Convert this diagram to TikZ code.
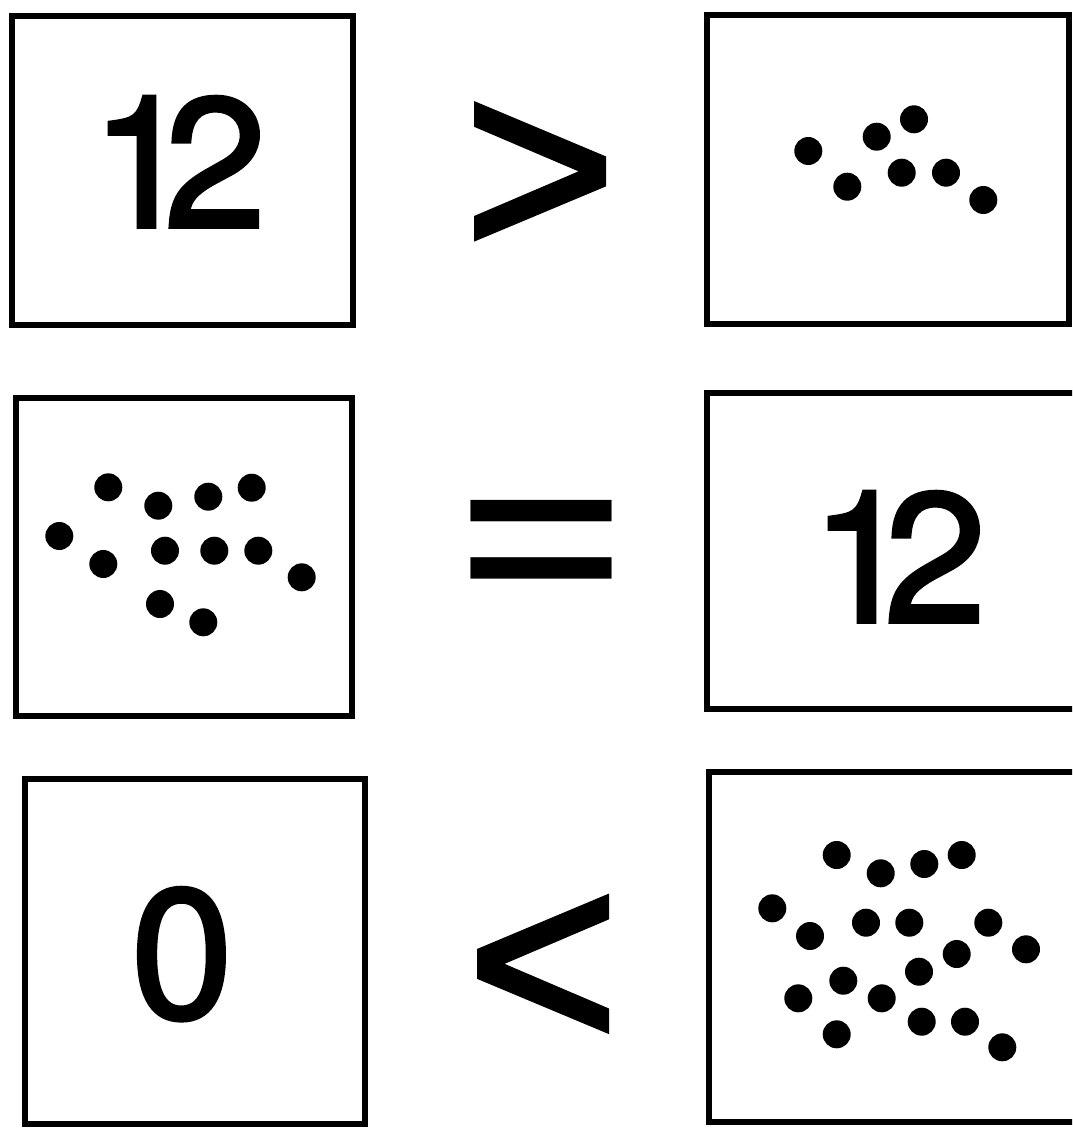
\documentclass[tikz,border=0pt]{standalone}
\usepackage{fontspec}
\setmainfont{TeX Gyre Heros}
\newfontfamily\digitfont[FakeBold=2]{TeX Gyre Heros}
\newfontfamily\relfont[FakeBold=2.2]{Liberation Sans}
\newfontfamily\eqfont{TeX Gyre Heros}
\begin{document}
\begin{tikzpicture}[x=1pt,y=-1pt,
  panel/.style={draw=black,line width=6.5pt,rectangle,inner sep=0pt,fill=none},
  digits/.style={inner sep=0pt,outer sep=0pt,font=\digitfont\fontsize{184}{184}\selectfont},
  relsym/.style={inner sep=0pt,outer sep=0pt,font=\relfont\fontsize{260}{260}\selectfont},
  eqsym/.style={inner sep=0pt,outer sep=0pt,font=\eqfont\fontsize{315}{315}\selectfont},
  dot/.style={fill=black}]
\useasboundingbox (0,0) rectangle (1072,1129);
\clip (0,0) rectangle (1072,1129);
\fill[white] (0,0) rectangle (1072,1129);
% panels
\node[panel,minimum width=341pt,minimum height=309pt] (p1) at (182.5,170.5) {};
\node[panel,minimum width=362pt,minimum height=309pt] (p2) at (888,169.5) {};
\node[panel,minimum width=336pt,minimum height=318pt] (p3) at (184,557) {};
\node[panel,minimum width=383pt,minimum height=316pt] (p4) at (898.5,551) {};
\node[panel,minimum width=340pt,minimum height=345pt] (p5) at (195,951.5) {};
\node[panel,minimum width=381pt,minimum height=350pt] (p6) at (899.5,947) {};
% numbers
\node[digits,anchor=base] (n1) at (178.5,227) {1\kern-29pt 2};
\node[digits,anchor=base] (n2) at (898.5,622) {1\kern-29pt 2};
\node[digits,anchor=base] (n3) at (182,1018) {0};
% relation symbols
\node[relsym,anchor=base] (gt) at (540,256.9) {>};
\node[eqsym,anchor=base] (eq) at (541,618.1) {=};
\node[relsym,anchor=base] (lt) at (543,1049.4) {<};
% dots: top right (7)
\foreach \x/\y in {808.3/151,847.3/186.7,876.7/136.7,914/119.3,901.7/172.7,946/172.7,983.3/200}
  \fill[dot] (\x,\y) circle (14pt);
% dots: middle left (12)
\foreach \x/\y in {108.3/487.3,158.3/505.7,208.3/496.7,251.7/487.7,59.3/536,103.3/564,165/550.7,214.3/550.7,258.3/550.7,301.7/577.3,160/604,203.3/622.3}
  \fill[dot] (\x,\y) circle (14pt);
% dots: bottom right (19)
\foreach \x/\y in {836.7/855,880.7/873.3,924.3/864,961.7/855,772.3/908.3,810/936,866/922.7,909.3/922.7,988.3/922.7,1026/949.3,956.7/954,919/971.7,843.3/980.7,798.3/998.3,881.7/998.3,921.7/1021.7,965/1021.7,836.7/1034.3,1002.3/1047.3}
  \fill[dot] (\x,\y) circle (14pt);
\end{tikzpicture}
\end{document}
